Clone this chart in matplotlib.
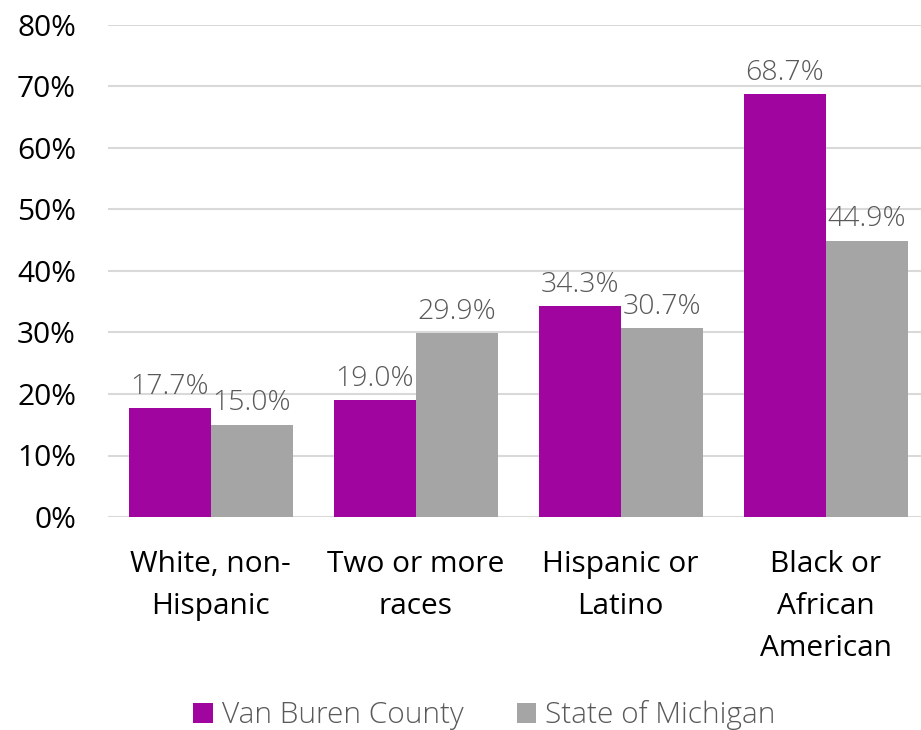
import matplotlib
matplotlib.use("Agg")
import matplotlib.pyplot as plt
import numpy as np

categories = ["White, non-\nHispanic", "Two or more\nraces", "Hispanic or\nLatino", "Black or\nAfrican\nAmerican"]
series_names = ["Van Buren County", "State of Michigan"]
van_buren = [17.7, 19.0, 34.3, 68.7]
michigan = [15.0, 29.9, 30.7, 44.9]
yticks = [0, 10, 20, 30, 40, 50, 60, 70, 80]

colors = ["#a0069f", "#a5a5a5"]
plt.rcParams['font.family'] = ['Open Sans', 'DejaVu Sans']

fig = plt.figure(figsize=(9.21, 7.30), dpi=100)
ax = fig.add_axes([108/921, 213/730, 1 - 108/921, 492/730])

x = np.arange(len(categories))
w = 0.4
b1 = ax.bar(x - w/2, van_buren, w, color=colors[0], label=series_names[0], zorder=3)
b2 = ax.bar(x + w/2, michigan, w, color=colors[1], label=series_names[1], zorder=3)

for bars, vals in ((b1, van_buren), (b2, michigan)):
    for r, v in zip(bars, vals):
        ax.text(r.get_x() + r.get_width()/2, v + 1.2, f"{v:.1f}%", ha="center", va="bottom",
                fontsize=20.5, color="#595959", fontweight="light", zorder=4)

ax.set_ylim(0, 80)
ax.set_xlim(-0.5, -0.5 + 813/205)
ax.set_yticks(yticks)
ax.set_yticklabels([f"{t}%" for t in yticks], fontsize=21.5, color="black")
ax.set_xticks(x)
ax.set_xticklabels(categories, fontsize=21.5, color="black", linespacing=1.58)
ax.tick_params(axis="both", length=0)
ax.tick_params(axis="x", pad=24)
ax.tick_params(axis="y", pad=23)
ax.yaxis.grid(True, color="#d9d9d9", linewidth=1.5, zorder=0)
ax.set_axisbelow(True)
for s in ax.spines.values():
    s.set_visible(False)

leg = fig.legend(handles=[b1, b2], labels=series_names, loc="center", bbox_to_anchor=(0.526, 15/730),
                 ncol=2, frameon=False, fontsize=21.5, handlelength=0.65, handleheight=0.65,
                 handletextpad=0.3, columnspacing=1.8)
for t in leg.get_texts():
    t.set_color("#595959")
    t.set_fontweight("light")

fig.savefig("out.png", dpi=100)
